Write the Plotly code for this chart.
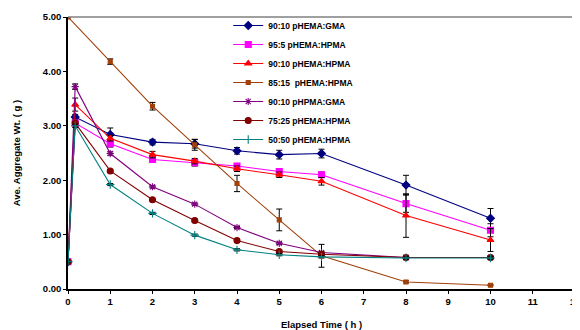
import plotly.graph_objects as go

t_main = [0, 0.17, 1, 2, 3, 4, 5, 6, 8, 10]
t_brown = [0, 1, 2, 3, 4, 5, 6, 8, 10]

names = [
    "90:10 pHEMA:GMA",
    "95:5 pHEMA:HPMA",
    "90:10 pHEMA:HPMA",
    "85:15  pHEMA:HPMA",
    "90:10 pHPMA:GMA",
    "75:25 pHEMA:HPMA",
    "50:50 pHEMA:HPMA",
]

gma_9010 = [0.50, 3.16, 2.84, 2.70, 2.67, 2.54, 2.47, 2.49, 1.91, 1.30]
hpma_955 = [0.50, 3.05, 2.67, 2.38, 2.32, 2.26, 2.16, 2.10, 1.57, 1.08]
hpma_9010 = [0.50, 3.39, 2.77, 2.47, 2.35, 2.21, 2.10, 1.98, 1.35, 0.90]
hpma_8515 = [5.00, 4.18, 3.36, 2.65, 1.94, 1.27, 0.61, 0.13, 0.07]
phpma_gma = [0.50, 3.72, 2.49, 1.88, 1.56, 1.13, 0.84, 0.67, 0.58, 0.58]
hpma_7525 = [0.50, 3.05, 2.17, 1.64, 1.26, 0.89, 0.69, 0.64, 0.58, 0.58]
hpma_5050 = [0.50, 3.00, 1.92, 1.39, 0.99, 0.72, 0.63, 0.59, 0.57, 0.57]

err_gma_9010 = [0, 0.05, 0.12, 0.05, 0.08, 0.06, 0.08, 0.08, 0.18, 0.18]
err_hpma_955 = [0, 0.05, 0.06, 0.05, 0.06, 0.04, 0.05, 0.05, 0.16, 0.12]
err_hpma_9010 = [0, 0.12, 0.05, 0.06, 0.05, 0.05, 0.05, 0.07, 0.40, 0.21]
err_hpma_8515 = [0, 0.05, 0.07, 0.10, 0.15, 0.20, 0.21, 0.02, 0.01]
err_phpma_gma = [0, 0.05, 0.03, 0.02, 0.02, 0.02, 0.02, 0.02, 0.02, 0.02]
err_hpma_7525 = [0, 0.03, 0.02, 0.02, 0.02, 0.02, 0.02, 0.02, 0.02, 0.02]
err_hpma_5050 = [0, 0.03, 0.02, 0.02, 0.02, 0.02, 0.02, 0.02, 0.02, 0.02]

x_ticks = list(range(0, 13))
y_ticks = [0, 1, 2, 3, 4, 5]
y_tick_labels = ["0.00", "1.00", "2.00", "3.00", "4.00", "5.00"]

series = [
    (names[0], t_main, gma_9010, err_gma_9010, "#000080", "diamond", 6),
    (names[1], t_main, hpma_955, err_hpma_955, "#FF00FF", "square", 6),
    (names[2], t_main, hpma_9010, err_hpma_9010, "#FF0000", "triangle-up", 6),
    (names[3], t_brown, hpma_8515, err_hpma_8515, "#A0400A", "square", 4),
    (names[4], t_main, phpma_gma, err_phpma_gma, "#800080", "asterisk-open", 6),
    (names[5], t_main, hpma_7525, err_hpma_7525, "#800000", "circle", 6),
    (names[6], t_main, hpma_5050, err_hpma_5050, "#008080", "cross-thin-open", 6),
]

fig = go.Figure()
for name, xs, ys, es, color, sym, size in series:
    fig.add_trace(go.Scatter(
        x=xs, y=ys, name=name, mode="lines+markers",
        line=dict(color=color, width=1.1),
        marker=dict(symbol=sym, size=size, color=color,
                    line=dict(color=color, width=1.1)),
        error_y=dict(type="data", array=es, visible=True,
                     color="black", thickness=1, width=3),
    ))

fam = "Liberation Sans, Arial"
fig.update_layout(
    width=572, height=322,
    margin=dict(l=60, r=5, t=9, b=41, autoexpand=False),
    paper_bgcolor="white", plot_bgcolor="white",
    font=dict(family=fam, size=9, color="black"),
    showlegend=True,
    legend=dict(x=0.316, y=1.022, xanchor="left", yanchor="top",
                bgcolor="rgba(0,0,0,0)", borderwidth=0,
                font=dict(family=fam, size=8.5, color="black", weight="bold"),
                itemwidth=30, tracegroupgap=0),
    xaxis=dict(range=[0, 12], tickvals=x_ticks, ticktext=[str(v) for v in x_ticks],
               showgrid=False, zeroline=False, showline=True, linecolor="black",
               linewidth=1.5, ticks="outside", ticklen=3, tickcolor="black",
               ticklabeloverflow="allow",
               tickfont=dict(size=9.5, weight="bold"),
               title=dict(text="Elapsed Time ( h )", font=dict(size=9.5, weight="bold"),
                          standoff=16)),
    yaxis=dict(range=[0, 5], tickvals=y_ticks, ticktext=y_tick_labels,
               showgrid=False, zeroline=False, showline=True, linecolor="black",
               linewidth=1.5, ticks="outside", ticklen=3, tickcolor="black",
               tickfont=dict(size=9.5, weight="bold"),
               title=dict(text="Ave. Aggregate Wt. ( g )", font=dict(size=9.5, weight="bold"),
                          standoff=21)),
)
fig.add_shape(type="line", xref="paper", yref="paper", x0=0, x1=1, y0=1, y1=1,
              line=dict(color="#808080", width=1.5))
fig.add_shape(type="line", xref="paper", yref="paper", x0=1, x1=1, y0=0, y1=1,
              line=dict(color="#808080", width=1.5))

fig.write_html("out.html")
